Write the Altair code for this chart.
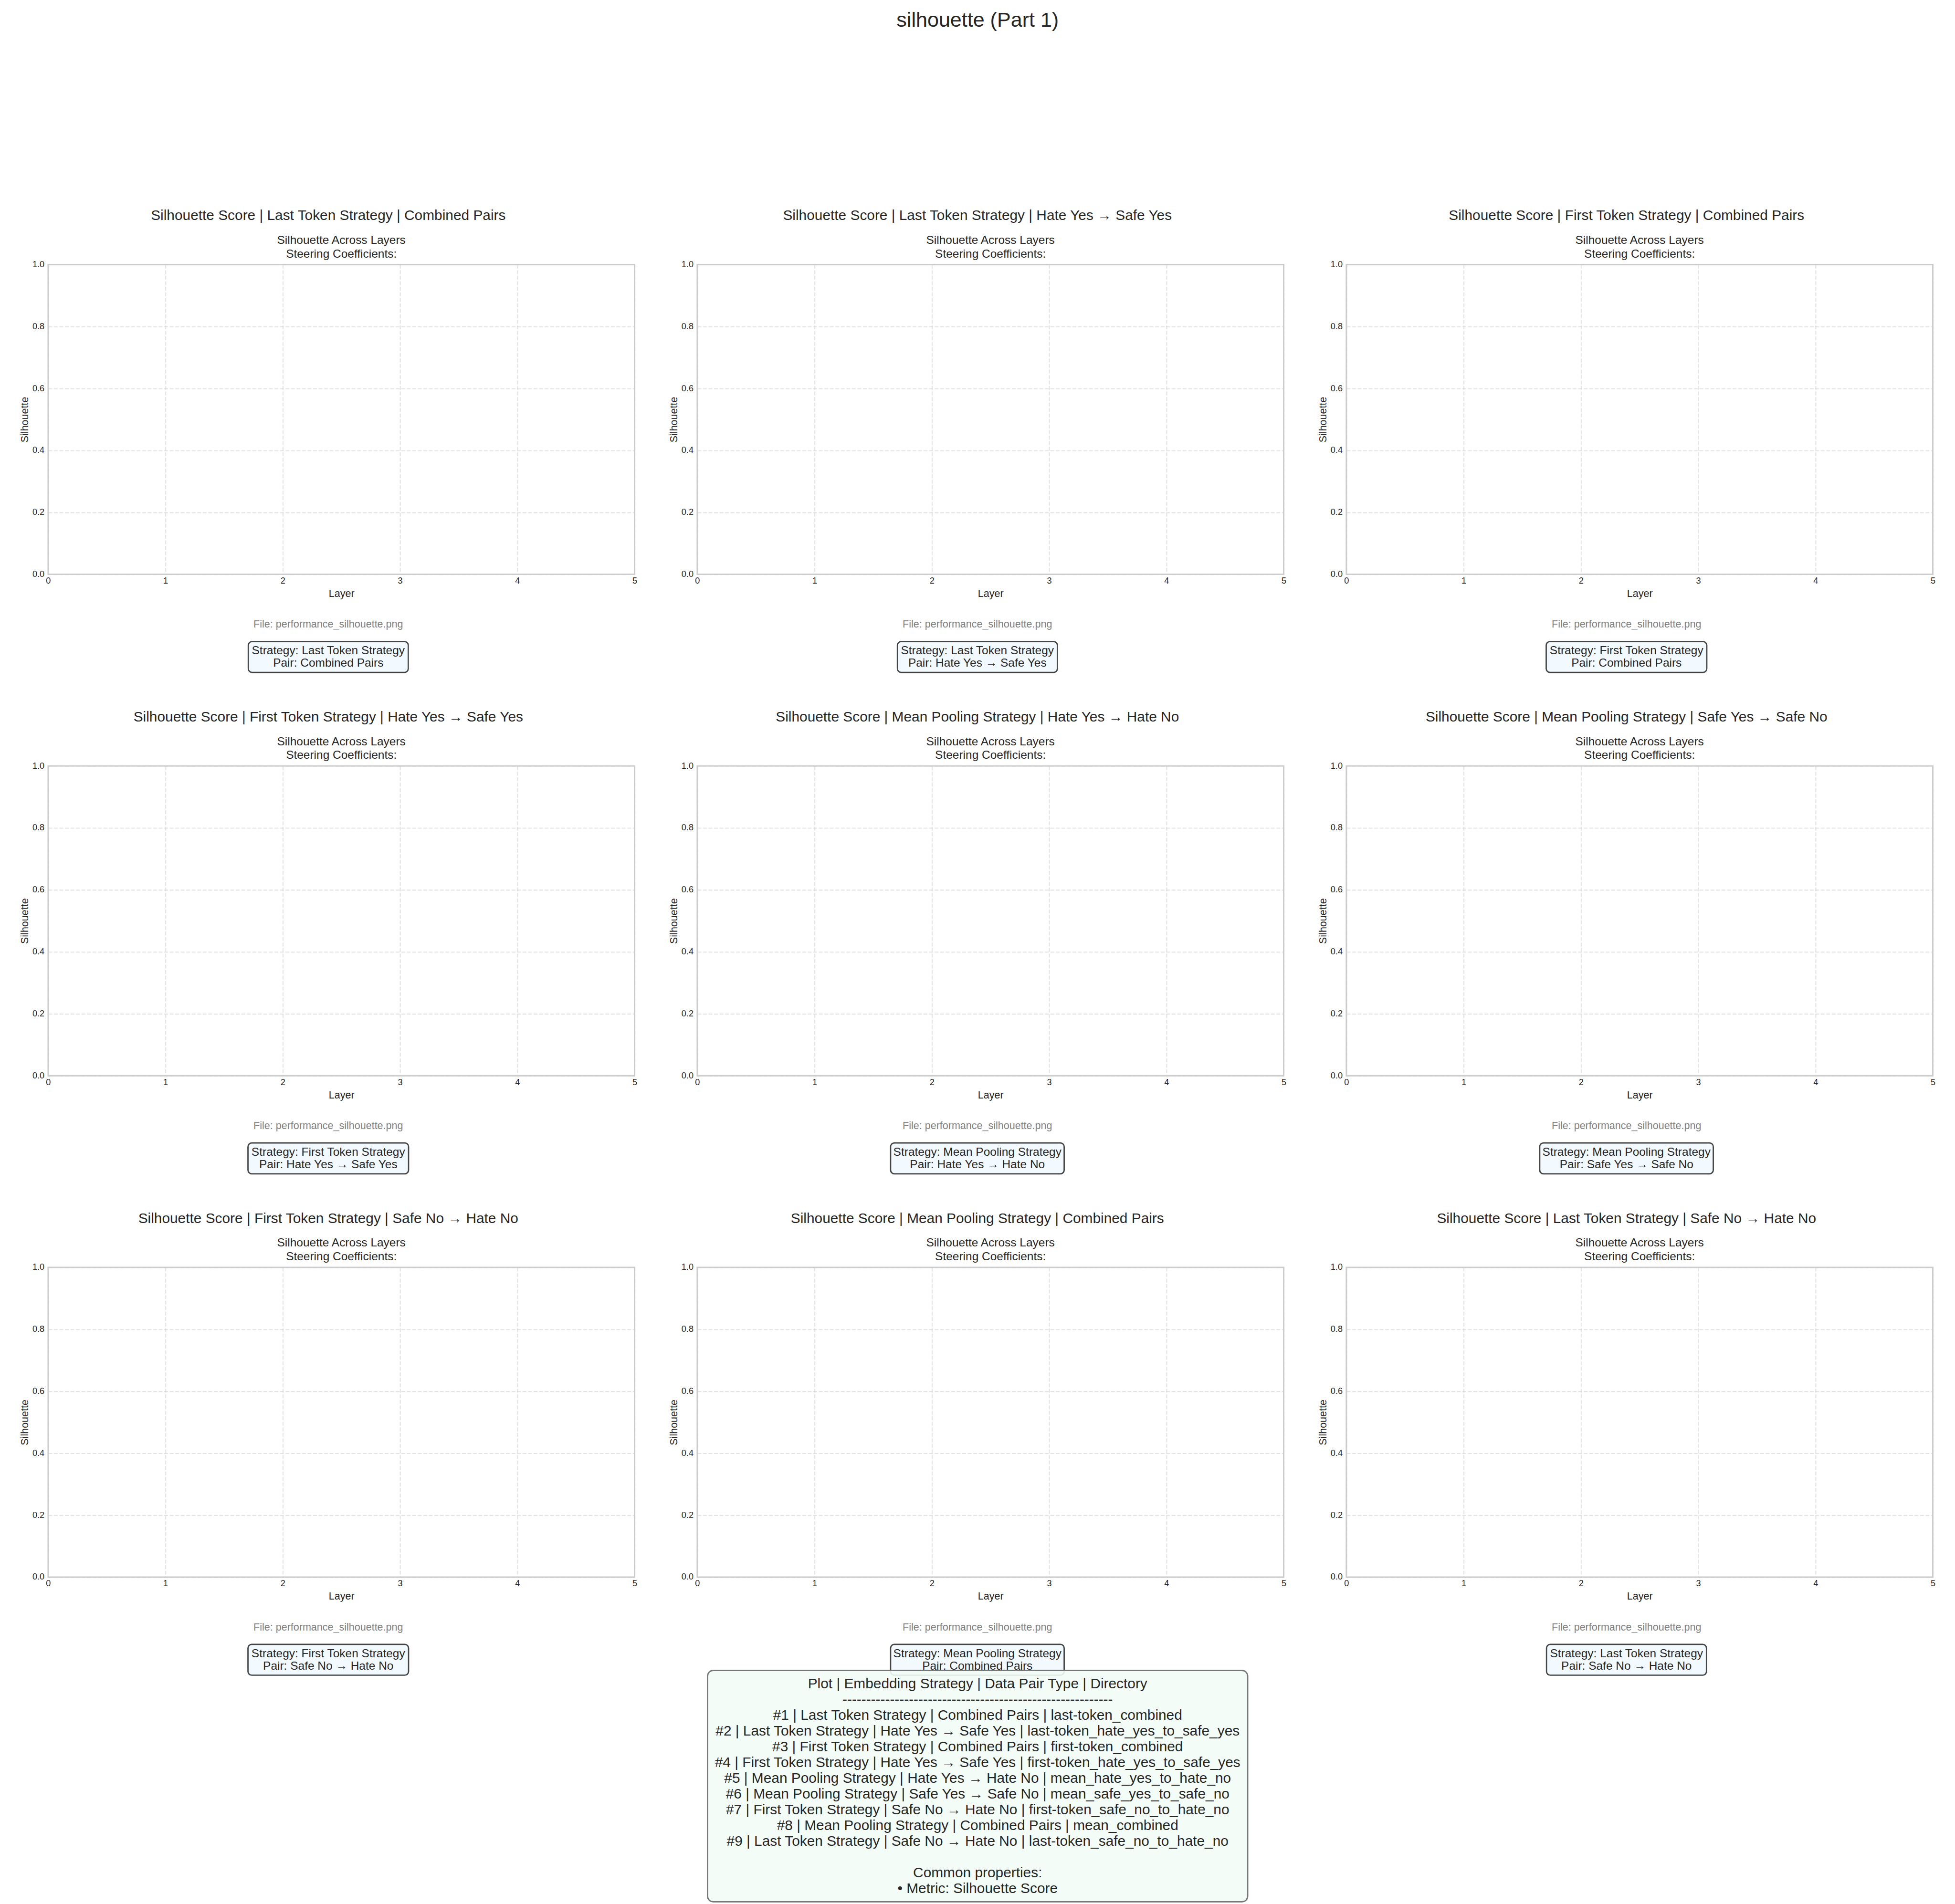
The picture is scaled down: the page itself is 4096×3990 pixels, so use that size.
import altair as alt
import pandas as pd

S = 4096 / 4180  # reference px -> output px

FONT = "Liberation Sans, Arial, Helvetica, sans-serif"
TEXT = "#262626"

# ---------------- data ----------------
suptitle = "silhouette (Part 1)"
metric_name = "Silhouette Score"
metric_short = "Silhouette"
file_name = "performance_silhouette.png"
strategies = [
    "Last Token Strategy", "Last Token Strategy", "First Token Strategy",
    "First Token Strategy", "Mean Pooling Strategy", "Mean Pooling Strategy",
    "First Token Strategy", "Mean Pooling Strategy", "Last Token Strategy",
]
pairs = [
    "Combined Pairs", "Hate Yes \u2192 Safe Yes", "Combined Pairs",
    "Hate Yes \u2192 Safe Yes", "Hate Yes \u2192 Hate No", "Safe Yes \u2192 Safe No",
    "Safe No \u2192 Hate No", "Combined Pairs", "Safe No \u2192 Hate No",
]
directories = [
    "last-token_combined", "last-token_hate_yes_to_safe_yes", "first-token_combined",
    "first-token_hate_yes_to_safe_yes", "mean_hate_yes_to_hate_no", "mean_safe_yes_to_safe_no",
    "first-token_safe_no_to_hate_no", "mean_combined", "last-token_safe_no_to_hate_no",
]
layer_ticks = [0, 1, 2, 3, 4, 5]
score_ticks = [0.0, 0.2, 0.4, 0.6, 0.8, 1.0]
legend_header = "Plot | Embedding Strategy | Data Pair Type | Directory"
legend_footer = ["Common properties:", "\u2022 Metric: " + metric_name]

# ---------------- layout (reference px) ----------------
PW, PH = 1255, 663
COL_GAP, ROW_GAP = 134, 410
LEFT, TOP = 101, 562
PAGE_W, PAGE_H = 4180, 4072

# Arial / Liberation Sans advance widths (per 1000 em)
W = {" ": 278, ":": 278, "\u2192": 1000, "-": 333, "_": 556, ".": 278,
     "A": 667, "B": 667, "C": 722, "D": 722, "E": 667, "F": 611, "G": 778, "H": 722,
     "I": 278, "J": 500, "K": 667, "L": 556, "M": 833, "N": 722, "O": 778, "P": 667,
     "Q": 778, "R": 722, "S": 667, "T": 611, "U": 722, "V": 667, "W": 944, "X": 667,
     "Y": 667, "Z": 611,
     "a": 556, "b": 556, "c": 500, "d": 556, "e": 556, "f": 278, "g": 556, "h": 556,
     "i": 222, "j": 222, "k": 500, "l": 222, "m": 833, "n": 556, "o": 556, "p": 556,
     "q": 556, "r": 333, "s": 500, "t": 278, "u": 556, "v": 500, "w": 722, "x": 500,
     "y": 500, "z": 500}


def text_width(s, fs):
    return sum(W.get(c, 556) for c in s) / 1000.0 * fs


def txt(df, field, x, y, size, color=TEXT, angle=0):
    return alt.Chart(df).mark_text(
        font=FONT, fontSize=size * S, color=color, align="center",
        baseline="alphabetic", angle=angle,
    ).encode(x=alt.value(x * S), y=alt.value(y * S), text=alt.Text(f"{field}:N"))


def rect(df, x1, x2, y1, y2, fill, opacity, stroke, sw, radius):
    return alt.Chart(df).mark_rect(
        fill=fill, fillOpacity=opacity, stroke=stroke, strokeWidth=sw * S,
        cornerRadius=radius * S,
    ).encode(x=alt.value(x1 * S), x2=alt.value(x2 * S),
             y=alt.value(y1 * S), y2=alt.value(y2 * S))


xaxis = alt.Axis(
    values=layer_ticks, format="d", grid=True, gridColor="#cccccc", gridOpacity=0.55,
    gridWidth=2.2 * S, gridDash=[8.2 * S, 3.6 * S], domain=False, ticks=False, tickSize=0,
    labelFont=FONT, labelFontSize=18.5 * S, labelColor=TEXT, labelPadding=5 * S,
    labelFlush=False, labelOverlap=False,
    title="Layer", titleFont=FONT, titleFontSize=22 * S, titleFontWeight="normal",
    titleColor=TEXT, titleX=PW * S / 2, titleY=48 * S, titleBaseline="alphabetic",
    titleAlign="center",
)
yaxis = alt.Axis(
    values=score_ticks, format=".1f", grid=True, gridColor="#cccccc", gridOpacity=0.55,
    gridWidth=2.2 * S, gridDash=[8.2 * S, 3.6 * S], domain=False, ticks=False, tickSize=0,
    labelFont=FONT, labelFontSize=18.5 * S, labelColor=TEXT, labelPadding=8.5 * S,
    labelFlush=False, labelOverlap=False,
    title=metric_short, titleFont=FONT, titleFontSize=22 * S, titleFontWeight="normal",
    titleColor=TEXT, titleX=-43.7 * S, titleY=PH * S / 2, titleAngle=270,
    titleBaseline="alphabetic", titleAlign="center",
)

ticks_df = pd.DataFrame({"Layer": layer_ticks, "Score": score_ticks})

TITLE_CX = 599.5
AX_CX = PW / 2


def panel(i):
    strat, pair = strategies[i], pairs[i]
    info = pd.DataFrame({
        "title": [f"{metric_name} | {strat} | {pair}"],
        "sub1": [f"{metric_short} Across Layers"],
        "sub2": ["Steering Coefficients:"],
        "file": [f"File: {file_name}"],
        "box1": [f"Strategy: {strat}"],
        "box2": [f"Pair: {pair}"],
    })
    frame = alt.Chart(ticks_df).mark_point(opacity=0).encode(
        x=alt.X("Layer:Q", scale=alt.Scale(domain=[0, 5], nice=False, zero=False), axis=xaxis),
        y=alt.Y("Score:Q", scale=alt.Scale(domain=[0, 1], nice=False), axis=yaxis),
    )
    bw = max(text_width(f"Strategy: {strat}", 25), text_width(f"Pair: {pair}", 25)) + 11.6
    layers = [
        frame,
        txt(info, "title", TITLE_CX, -95.3, 30.5),
        txt(info, "sub1", AX_CX, -44.5, 25),
        txt(info, "sub2", AX_CX, -15, 25),
        txt(info, "file", TITLE_CX, 777, 22, color="#808080"),
        rect(info, TITLE_CX - bw / 2, TITLE_CX + bw / 2, 807, 873,
             "#f0f8ff", 0.85, "#444444", 2.8, 8),
        txt(info, "box1", TITLE_CX, 834.5, 25),
        txt(info, "box2", TITLE_CX, 861, 25),
    ]
    if i == 0:
        anchor = pd.DataFrame({"a": [0]})
        layers.append(alt.Chart(anchor).mark_point(filled=True, color="white", size=1, opacity=1).encode(
            x=alt.value(-LEFT * S + 0.6), y=alt.value(-TOP * S + 0.6)))
    if i == 1:
        sup = pd.DataFrame({"t": [suptitle]})
        layers.append(txt(sup, "t", 600, -508.7, 44))
    if i == 7:
        lines = [legend_header, "-" * 57]
        lines += [f"#{k + 1} | {strategies[k]} | {pairs[k]} | {directories[k]}" for k in range(9)]
        lines += [""] + legend_footer
        box = pd.DataFrame({"a": [0]})
        layers.append(rect(box, 22, 1178, 863, 1358, "#f2fcf6", 0.9, "#777777", 2.8, 12))
        for k, line in enumerate(lines):
            if not line:
                continue
            ldf = pd.DataFrame({"line": [line]})
            layers.append(txt(ldf, "line", 600, 901 + 33.7 * k, 30.5))
    if i == 8:
        anchor = pd.DataFrame({"a": [0]})
        col_x = LEFT + 2 * (PW + COL_GAP)
        row_y = TOP + 2 * (PH + ROW_GAP)
        layers.append(alt.Chart(anchor).mark_point(filled=True, color="white", size=1, opacity=1).encode(
            x=alt.value((PAGE_W - col_x) * S - 0.6), y=alt.value((PAGE_H - row_y) * S - 0.6)))
    return alt.layer(*layers).properties(width=PW * S, height=PH * S)


chart = alt.concat(
    *[panel(i) for i in range(9)], columns=3,
    spacing={"row": ROW_GAP * S, "column": COL_GAP * S}, bounds="flush",
).properties(
    padding=0, background="white", autosize=alt.AutoSizeParams(type="pad"),
).configure_view(stroke="#cccccc", strokeWidth=3 * S)

chart.save("out.html", embed_options={"renderer": "svg", "actions": False})
